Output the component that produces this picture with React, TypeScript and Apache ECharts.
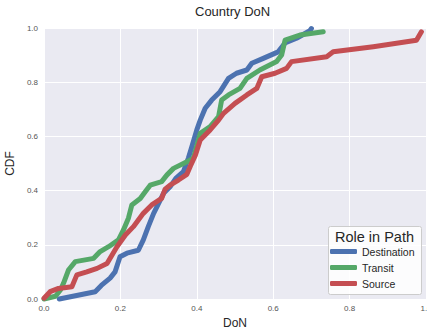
import React, { useEffect, useRef } from "react";
import * as echarts from "echarts";

const seriesNames = ["Destination", "Transit", "Source"];
const seriesColors = ["#4C72B0", "#55A868", "#C44E52"];
const xTicks = [0, 0.2, 0.4, 0.6, 0.8, 1.0];
const yTicks = [0, 0.2, 0.4, 0.6, 0.8, 1.0];

const destination: number[][] = [
  [0.04, 0], [0.134, 0.027], [0.15, 0.05], [0.173, 0.077], [0.186, 0.1],
  [0.199, 0.156], [0.217, 0.169], [0.247, 0.18], [0.26, 0.218], [0.273, 0.267],
  [0.287, 0.316], [0.3, 0.353], [0.313, 0.39], [0.33, 0.414], [0.345, 0.445],
  [0.365, 0.47], [0.378, 0.52], [0.387, 0.562], [0.4, 0.624], [0.409, 0.66],
  [0.422, 0.704], [0.439, 0.734], [0.461, 0.765], [0.483, 0.814], [0.504, 0.833],
  [0.531, 0.845], [0.544, 0.87], [0.574, 0.888], [0.613, 0.912], [0.631, 0.945],
  [0.661, 0.962], [0.696, 0.99], [0.7, 0.998],
];

const transit: number[][] = [
  [0, 0], [0.03, 0.01], [0.043, 0.033], [0.051, 0.058], [0.064, 0.107],
  [0.082, 0.138], [0.13, 0.15], [0.147, 0.175], [0.169, 0.193], [0.195, 0.218],
  [0.208, 0.255], [0.221, 0.298], [0.23, 0.347], [0.252, 0.371], [0.265, 0.396],
  [0.278, 0.42], [0.308, 0.433], [0.322, 0.458], [0.339, 0.482], [0.365, 0.5],
  [0.383, 0.513], [0.391, 0.52], [0.409, 0.611], [0.435, 0.636], [0.457, 0.673],
  [0.465, 0.734], [0.483, 0.753], [0.513, 0.777], [0.531, 0.814], [0.565, 0.845],
  [0.609, 0.876], [0.622, 0.9], [0.631, 0.955], [0.67, 0.974], [0.731, 0.986],
];

const source: number[][] = [
  [0, 0.003], [0.016, 0.027], [0.038, 0.039], [0.073, 0.045], [0.086, 0.089],
  [0.112, 0.1], [0.139, 0.113], [0.165, 0.131], [0.191, 0.193], [0.213, 0.236],
  [0.234, 0.267], [0.26, 0.316], [0.282, 0.347], [0.308, 0.371], [0.317, 0.405],
  [0.33, 0.42], [0.352, 0.439], [0.374, 0.46], [0.383, 0.49], [0.396, 0.53],
  [0.409, 0.587], [0.435, 0.624], [0.457, 0.66], [0.47, 0.685], [0.5, 0.722],
  [0.531, 0.753], [0.557, 0.777], [0.57, 0.82], [0.605, 0.833], [0.635, 0.851],
  [0.648, 0.876], [0.74, 0.894], [0.757, 0.912], [0.862, 0.931], [0.975, 0.955],
  [0.988, 0.986],
];

const allData = [destination, transit, source];
const FONT = "'Liberation Sans', Arial, sans-serif";

export default function App() {
  const ref = useRef<HTMLDivElement>(null);
  useEffect(() => {
    document.body.style.margin = "0";
    if (!ref.current) return;
    const chart = echarts.init(ref.current, null, { renderer: "svg" });
    chart.setOption({
      animation: false,
      backgroundColor: "#ffffff",
      title: {
        text: "Country DoN",
        left: 190,
        top: 0,
        textStyle: { fontFamily: FONT, fontSize: 13, fontWeight: "normal", color: "#262626" },
      },
      grid: {
        left: 44,
        right: 1,
        top: 28,
        bottom: 35,
        show: true,
        backgroundColor: "#EAEAF2",
        borderWidth: 0,
        outerBoundsMode: "none",
        containLabel: false,
      },
      xAxis: {
        type: "value",
        min: xTicks[0],
        max: xTicks[xTicks.length - 1],
        interval: 0.2,
        name: "DoN",
        nameLocation: "middle",
        nameGap: 16,
        nameTextStyle: { fontFamily: FONT, fontSize: 12, color: "#262626" },
        axisLine: { show: false },
        axisTick: { show: false },
        axisLabel: {
          margin: 5,
          fontFamily: FONT,
          fontSize: 8,
          color: "#555555",
          formatter: (v: number) => v.toFixed(1),
        },
        splitLine: { show: true, lineStyle: { color: "#ffffff", width: 1 } },
      },
      yAxis: {
        type: "value",
        min: yTicks[0],
        max: yTicks[yTicks.length - 1],
        interval: 0.2,
        name: "CDF",
        nameLocation: "middle",
        nameGap: 22,
        nameTextStyle: { fontFamily: FONT, fontSize: 12, color: "#262626" },
        axisLine: { show: false },
        axisTick: { show: false },
        axisLabel: {
          margin: 6,
          fontFamily: FONT,
          fontSize: 8,
          color: "#555555",
          formatter: (v: number) => v.toFixed(1),
        },
        splitLine: { show: true, lineStyle: { color: "#ffffff", width: 1 } },
      },
      legend: {
        orient: "vertical",
        left: 330,
        top: 246,
        z: 100,
        itemWidth: 27,
        itemHeight: 5,
        itemGap: 5,
        icon: "roundRect",
        data: seriesNames,
        textStyle: { fontFamily: FONT, fontSize: 10.5, color: "#262626" },
        padding: 0,
      },
      graphic: [
        {
          type: "rect",
          left: 328,
          top: 226,
          z: 90,
          shape: { width: 93, height: 68, r: 2 },
          style: { fill: "rgba(255,255,255,0.85)", stroke: "#cccccc", lineWidth: 1 },
          silent: true,
        },
        {
          type: "text",
          left: 335,
          top: 229,
          z: 91,
          style: { text: "Role in Path", fontFamily: FONT, fontSize: 14.5, fill: "#262626" },
          silent: true,
        },
      ],
      series: seriesNames.map((name, i) => ({
        name,
        type: "line",
        data: allData[i],
        showSymbol: false,
        symbol: "none",
        clip: false,
        color: seriesColors[i],
        lineStyle: { width: 5, color: seriesColors[i], cap: "round", join: "round" },
        z: 2 + i,
      })),
    });
    return () => chart.dispose();
  }, []);
  return <div ref={ref} style={{ width: 427, height: 334 }} />;
}
